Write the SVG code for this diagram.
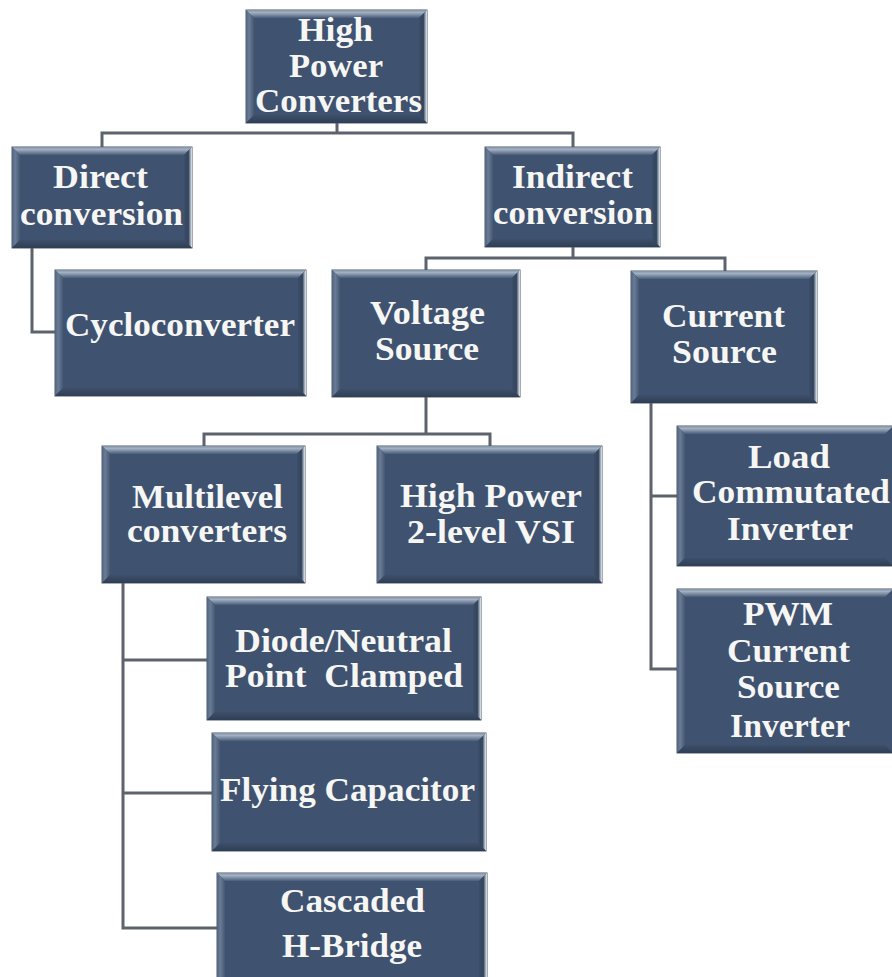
<svg xmlns="http://www.w3.org/2000/svg" width="892" height="977" viewBox="0 0 892 977">
  <defs>
    <linearGradient id="gTop" x1="0" y1="0" x2="0" y2="1">
      <stop offset="0" stop-color="#7f8fa3"/>
      <stop offset="0.3" stop-color="#a3b1c2"/>
      <stop offset="1" stop-color="#4a5d79"/>
    </linearGradient>
    <linearGradient id="gLeft" x1="0" y1="0" x2="1" y2="0">
      <stop offset="0" stop-color="#51647f"/>
      <stop offset="0.4" stop-color="#6a7c95"/>
      <stop offset="1" stop-color="#445773"/>
    </linearGradient>
    <linearGradient id="gRight" x1="0" y1="0" x2="1" y2="0">
      <stop offset="0" stop-color="#3c4e69"/>
      <stop offset="0.55" stop-color="#33445c"/>
      <stop offset="0.8" stop-color="#9aa6b5"/>
      <stop offset="1" stop-color="#e8ecf0"/>
    </linearGradient>
    <linearGradient id="gBottom" x1="0" y1="0" x2="0" y2="1">
      <stop offset="0" stop-color="#3d4f6a"/>
      <stop offset="1" stop-color="#2f3e55"/>
    </linearGradient>
  </defs>
  <style>
    .box { fill: #3f526f; stroke: #4c5a6e; stroke-width: 1; }
    .bt { fill: url(#gTop); }
    .bl { fill: url(#gLeft); }
    .br { fill: url(#gRight); }
    .bb { fill: url(#gBottom); }
    .t { font-family: "Liberation Serif", "Times New Roman", serif; font-weight: bold; font-size: 33px; fill: #f6f6f4; }
    .link { fill: none; stroke: #5d636c; stroke-width: 3; stroke-linejoin: miter; }
  </style>

  <rect width="892" height="977" fill="#ffffff"/>

  <!-- connectors -->
  <g id="connectors">
    <path class="link" d="M337 123 V133 M102 147 V133 H573 V147"/>
    <path class="link" d="M32 248 V332 H55"/>
    <path class="link" d="M573 247 V258 M426 270 V258 H725 V271"/>
    <path class="link" d="M426 397 V434 M204 446 V434 H490 V446"/>
    <path class="link" d="M651 403 V669 H677 M651 496 H677"/>
    <path class="link" d="M123 583 V928 H217 M123 660 H207 M123 793 H212"/>
  </g>

  <!-- root -->
  <g id="high-power-converters">
    <rect class="box" x="246" y="10" width="181" height="113"/>
    <polygon class="bt" points="246,10 427,10 419,18 254,18"/>
    <polygon class="bl" points="246,10 254,18 254,115 246,123"/>
    <polygon class="br" points="427,10 427,123 419,115 419,18"/>
    <polygon class="bb" points="246,123 427,123 419,115 254,115"/>
    <text class="t" x="298" y="41" textLength="75" lengthAdjust="spacingAndGlyphs">High</text>
    <text class="t" x="289" y="77" textLength="94" lengthAdjust="spacingAndGlyphs">Power</text>
    <text class="t" x="255" y="112" textLength="167" lengthAdjust="spacingAndGlyphs">Converters</text>
  </g>

  <g id="direct-conversion">
    <rect class="box" x="12" y="147" width="180" height="101"/>
    <polygon class="bt" points="12,147 192,147 184,155 20,155"/>
    <polygon class="bl" points="12,147 20,155 20,240 12,248"/>
    <polygon class="br" points="192,147 192,248 184,240 184,155"/>
    <polygon class="bb" points="12,248 192,248 184,240 20,240"/>
    <text class="t" x="53" y="188" textLength="95" lengthAdjust="spacingAndGlyphs">Direct</text>
    <text class="t" x="20" y="225" textLength="163" lengthAdjust="spacingAndGlyphs">conversion</text>
  </g>

  <g id="cycloconverter">
    <rect class="box" x="55" y="270" width="251" height="126"/>
    <polygon class="bt" points="55,270 306,270 298,278 63,278"/>
    <polygon class="bl" points="55,270 63,278 63,388 55,396"/>
    <polygon class="br" points="306,270 306,396 298,388 298,278"/>
    <polygon class="bb" points="55,396 306,396 298,388 63,388"/>
    <text class="t" x="65" y="336" textLength="230" lengthAdjust="spacingAndGlyphs">Cycloconverter</text>
  </g>

  <g id="indirect-conversion">
    <rect class="box" x="485" y="147" width="175" height="100"/>
    <polygon class="bt" points="485,147 660,147 652,155 493,155"/>
    <polygon class="bl" points="485,147 493,155 493,239 485,247"/>
    <polygon class="br" points="660,147 660,247 652,239 652,155"/>
    <polygon class="bb" points="485,247 660,247 652,239 493,239"/>
    <text class="t" x="512" y="188" textLength="121" lengthAdjust="spacingAndGlyphs">Indirect</text>
    <text class="t" x="493" y="224" textLength="160" lengthAdjust="spacingAndGlyphs">conversion</text>
  </g>

  <g id="voltage-source">
    <rect class="box" x="332" y="270" width="188" height="127"/>
    <polygon class="bt" points="332,270 520,270 512,278 340,278"/>
    <polygon class="bl" points="332,270 340,278 340,389 332,397"/>
    <polygon class="br" points="520,270 520,397 512,389 512,278"/>
    <polygon class="bb" points="332,397 520,397 512,389 340,389"/>
    <text class="t" x="370" y="324" textLength="115" lengthAdjust="spacingAndGlyphs">Voltage</text>
    <text class="t" x="375" y="360" textLength="104" lengthAdjust="spacingAndGlyphs">Source</text>
  </g>

  <g id="current-source">
    <rect class="box" x="631" y="271" width="186" height="132"/>
    <polygon class="bt" points="631,271 817,271 809,279 639,279"/>
    <polygon class="bl" points="631,271 639,279 639,395 631,403"/>
    <polygon class="br" points="817,271 817,403 809,395 809,279"/>
    <polygon class="bb" points="631,403 817,403 809,395 639,395"/>
    <text class="t" x="662" y="327" textLength="123" lengthAdjust="spacingAndGlyphs">Current</text>
    <text class="t" x="672" y="363" textLength="105" lengthAdjust="spacingAndGlyphs">Source</text>
  </g>

  <g id="multilevel-converters">
    <rect class="box" x="102" y="446" width="203" height="137"/>
    <polygon class="bt" points="102,446 305,446 297,454 110,454"/>
    <polygon class="bl" points="102,446 110,454 110,575 102,583"/>
    <polygon class="br" points="305,446 305,583 297,575 297,454"/>
    <polygon class="bb" points="102,583 305,583 297,575 110,575"/>
    <text class="t" x="132" y="508" textLength="151" lengthAdjust="spacingAndGlyphs">Multilevel</text>
    <text class="t" x="127" y="542" textLength="160" lengthAdjust="spacingAndGlyphs">converters</text>
  </g>

  <g id="high-power-2-level-vsi">
    <rect class="box" x="377" y="446" width="225" height="137"/>
    <polygon class="bt" points="377,446 602,446 594,454 385,454"/>
    <polygon class="bl" points="377,446 385,454 385,575 377,583"/>
    <polygon class="br" points="602,446 602,583 594,575 594,454"/>
    <polygon class="bb" points="377,583 602,583 594,575 385,575"/>
    <text class="t" x="400" y="507" textLength="182" lengthAdjust="spacingAndGlyphs">High Power</text>
    <text class="t" x="407" y="543" textLength="168" lengthAdjust="spacingAndGlyphs">2-level VSI</text>
  </g>

  <g id="load-commutated-inverter">
    <rect class="box" x="677" y="426" width="216" height="140"/>
    <polygon class="bt" points="677,426 893,426 885,434 685,434"/>
    <polygon class="bl" points="677,426 685,434 685,558 677,566"/>
    <polygon class="bb" points="677,566 893,566 885,558 685,558"/>
    <text class="t" x="748" y="468" textLength="82" lengthAdjust="spacingAndGlyphs">Load</text>
    <text class="t" x="692" y="503" textLength="198" lengthAdjust="spacingAndGlyphs">Commutated</text>
    <text class="t" x="727" y="540" textLength="126" lengthAdjust="spacingAndGlyphs">Inverter</text>
  </g>

  <g id="pwm-current-source-inverter">
    <rect class="box" x="677" y="589" width="216" height="164"/>
    <polygon class="bt" points="677,589 893,589 885,597 685,597"/>
    <polygon class="bl" points="677,589 685,597 685,745 677,753"/>
    <polygon class="bb" points="677,753 893,753 885,745 685,745"/>
    <text class="t" x="743" y="625" textLength="90" lengthAdjust="spacingAndGlyphs">PWM</text>
    <text class="t" x="727" y="662" textLength="123" lengthAdjust="spacingAndGlyphs">Current</text>
    <text class="t" x="737" y="698" textLength="103" lengthAdjust="spacingAndGlyphs">Source</text>
    <text class="t" x="730" y="737" textLength="120" lengthAdjust="spacingAndGlyphs">Inverter</text>
  </g>

  <g id="diode-neutral-point-clamped">
    <rect class="box" x="207" y="597" width="274" height="123"/>
    <polygon class="bt" points="207,597 481,597 473,605 215,605"/>
    <polygon class="bl" points="207,597 215,605 215,712 207,720"/>
    <polygon class="br" points="481,597 481,720 473,712 473,605"/>
    <polygon class="bb" points="207,720 481,720 473,712 215,712"/>
    <text class="t" x="235" y="652" textLength="217" lengthAdjust="spacingAndGlyphs">Diode/Neutral</text>
    <text class="t" x="225" y="687" textLength="238" lengthAdjust="spacingAndGlyphs" xml:space="preserve">Point  Clamped</text>
  </g>

  <g id="flying-capacitor">
    <rect class="box" x="212" y="733" width="274" height="118"/>
    <polygon class="bt" points="212,733 486,733 478,741 220,741"/>
    <polygon class="bl" points="212,733 220,741 220,843 212,851"/>
    <polygon class="br" points="486,733 486,851 478,843 478,741"/>
    <polygon class="bb" points="212,851 486,851 478,843 220,843"/>
    <text class="t" x="220" y="801" textLength="255" lengthAdjust="spacingAndGlyphs">Flying Capacitor</text>
  </g>

  <g id="cascaded-h-bridge">
    <rect class="box" x="217" y="873" width="270" height="110"/>
    <polygon class="bt" points="217,873 487,873 479,881 225,881"/>
    <polygon class="bl" points="217,873 225,881 225,983 217,983"/>
    <polygon class="br" points="487,873 487,983 479,983 479,881"/>
    <text class="t" x="280" y="912" textLength="145" lengthAdjust="spacingAndGlyphs">Cascaded</text>
    <text class="t" x="282" y="957" textLength="140" lengthAdjust="spacingAndGlyphs">H-Bridge</text>
  </g>
</svg>
